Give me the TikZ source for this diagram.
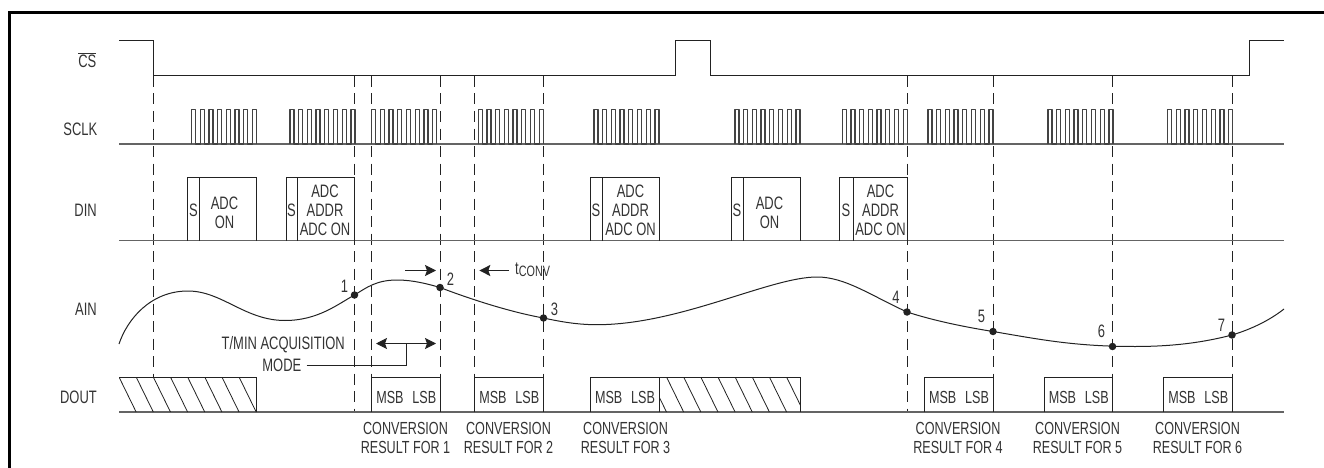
\documentclass[tikz,border=0pt]{standalone}
\usepackage{fontspec}
\setmainfont[FakeStretch=0.72]{Liberation Sans}
\usetikzlibrary{arrows.meta}
\definecolor{ink}{HTML}{222222}
\definecolor{txt}{HTML}{333333}
\tikzset{
  sig/.style={draw=ink,line width=1pt},
  clk/.style={draw=ink!85,line width=1.25pt,line join=round},
  base/.style={draw=ink!70,line width=1.5pt},
  guide/.style={draw=ink,line width=1pt,dash pattern=on 11pt off 6.5pt},
  lab/.style={text=txt,font=\fontsize{18}{19}\selectfont,inner sep=0pt,align=center},
  sml/.style={text=txt,font=\fontsize{17.5}{19}\selectfont,inner sep=0pt,align=center},
  num/.style={text=txt,font=\fontsize{18}{19}\selectfont,inner sep=0pt},
  dotm/.style={circle,fill=ink,inner sep=0pt,minimum size=7.5pt},
  head/.style={-{Stealth[length=11pt,width=11pt,inset=2pt]},draw=ink,line width=1pt},
  dhead/.style={{Stealth[length=11pt,width=11pt,inset=2pt]}-{Stealth[length=11pt,width=11pt,inset=2pt]},draw=ink,line width=1pt},
  hatch/.style={draw=ink,line width=0.8pt}
}
\newcommand{\burst}[1]{%
  \draw[clk] (#1,144) -- ++(0,-34.5) -- ++(4,0) -- ++(0,34.5)
    \foreach \i in {1,...,7}{ -- ++(4.7,0) -- ++(0,-34.5) -- ++(4,0) -- ++(0,34.5)};
}
\newcommand{\dinbox}[3]{%
  \draw[sig] (#1,240.5) -- (#1,177.5) -- (#3,177.5) -- (#3,240.5);
  \draw[sig] (#2,177.5) -- (#2,240.5);
}
\begin{document}
\begin{tikzpicture}[x=1pt,y=-1pt]
\useasboundingbox (0,0) rectangle (1324,468);
% frame
\draw[black,line width=3pt] (9.5,468) -- (9.5,12.5) -- (1324,12.5);
% row labels
\node[lab,anchor=east] (lcs) at (96.5,60) {$\overline{\mbox{CS}}$};
\node[lab,anchor=east] (lsclk) at (97.5,129) {SCLK};
\node[lab,anchor=east] (ldin) at (97,210) {DIN};
\node[lab,anchor=east] (lain) at (97,309) {AIN};
\node[lab,anchor=east] (ldout) at (97,397) {DOUT};
% guides
\foreach \x/\yb in {153.5/377,354.5/412,371.5/412,440/412,474.5/412,543/412,907/412,993/412,1112.5/412,1232/412}
  \draw[guide] (\x,76) -- (\x,\yb);
% CS
\draw[sig] (119,41) -- (153.5,41) -- (153.5,75.5) -- (675.5,75.5) -- (675.5,41) -- (710,41) -- (710,75.5) -- (1249.5,75.5) -- (1249.5,41) -- (1284,41);
% SCLK
\draw[base] (119,144) -- (1284,144);
\foreach \x in {191.5,290,371.7,478.3,594,735,842.3,928,1048,1167.7}{\burst{\x}}
% DIN
\draw[base] (119,240.5) -- (1284,240.5);
\dinbox{187.5}{199}{256.5}
\dinbox{286}{297}{354.5}
\dinbox{590}{602.5}{659}
\dinbox{731}{743}{800}
\dinbox{839}{853}{907.5}
\foreach \x/\n in {193.5/s1,291.5/s2,596/s3,737/s4,846/s5}
  \node[lab] (\n) at (\x,210) {S};
\node[lab] (t1) at (224.5,213) {ADC\\ON};
\node[lab] (t2) at (325,210.5) {ADC\\ADDR\\ADC ON};
\node[lab] (t3) at (630.5,210.5) {ADC\\ADDR\\ADC ON};
\node[lab] (t4) at (769.5,213) {ADC\\ON};
\node[lab] (t5) at (880.5,210.5) {ADC\\ADDR\\ADC ON};
% AIN curve
\draw[ink,line width=1pt] (119,344)
  .. controls (127,320) and (150,291) .. (188,291)
  .. controls (222,291) and (245,320.5) .. (285,320.5)
  .. controls (318,320.5) and (338,304) .. (354.5,295)
  .. controls (366,288) and (376,280) .. (397,280)
  .. controls (413,280) and (428,284) .. (440,287.5)
  .. controls (470,299) and (510,312) .. (543.5,318)
  .. controls (562,322) and (578,324.7) .. (597,324.7)
  .. controls (680,324.7) and (770,277) .. (817,277)
  .. controls (845,277) and (870,295) .. (907,312)
  .. controls (935,321) and (965,327) .. (993,331.5)
  .. controls (1040,339.5) and (1075,346.5) .. (1135,346.5)
  .. controls (1175,346.5) and (1205,342) .. (1232,335)
  .. controls (1252,329) and (1270,320) .. (1284,309);
\foreach \n/\x/\y in {d1/354.5/295,d2/440/287.5,d3/543.5/318,d4/907/312,d5/993/331.5,d6/1112.5/346.5,d7/1232/335}
  \node[dotm] (\n) at (\x,\y) {};
\node[num] (n1) at (344.5,286) {1};
\node[num] (n2) at (450.5,279) {2};
\node[num] (n3) at (554.5,309) {3};
\node[num] (n4) at (896,297) {4};
\node[num] (n5) at (981.5,316) {5};
\node[num] (n6) at (1101.5,331.5) {6};
\node[num] (n7) at (1221.5,325) {7};
% timing arrows
\coordinate (a1) at (405,270.5); \coordinate (a2) at (436,270.5);
\draw[head] (a1) -- (a2);
\coordinate (b1) at (509,270.5); \coordinate (b2) at (479.3,270.5);
\draw[head] (b1) -- (b2);
\node[lab,anchor=west] (tconv) at (515,270) {t\raisebox{-2.5pt}{\fontsize{15}{16}\selectfont CONV}};
\coordinate (c1) at (376,343.5); \coordinate (c2) at (436,343.5); \coordinate (c3) at (406,343.5);
\draw[dhead] (c1) -- (c2);
\node[lab,anchor=east] (acq) at (345,345) {T/MIN ACQUISITION};
\node[lab,anchor=east] (mode) at (301.5,365.5) {MODE};
\draw[sig] (mode.east) ++(5,0) -- (406,365.5) -- (c3);
% DOUT
\draw[base] (119,412) -- (1284,412);
\begin{scope}
  \clip (119,377) rectangle (256.5,412);
  \foreach \k in {0,...,8}
    \draw[hatch] (119+\k*17.15,377) -- ++(17.15,35);
\end{scope}
\draw[sig] (119,377) -- (256.5,377) -- (256.5,412);
\begin{scope}
  \clip (659,377) rectangle (800,412);
  \foreach \k in {-1,...,8}
    \draw[hatch] (666.5+\k*17.15,377) -- ++(17.15,35);
\end{scope}
\draw[sig] (659,377) -- (800,377) -- (800,412);
\foreach \a/\b/\n in {371.5/440/m1,474.5/543/m2,590/659/m3,924/993/m4,1044/1112.5/m5,1163.5/1232/m6}{
  \draw[sig] (\a,412) -- (\a,377) -- (\b,377) -- (\b,412);
  \node[sml] (\n) at ({(\a+\b)/2+0.5},397) {MSB\hspace{0.5em}LSB};
}
% captions
\foreach \x/\k in {405.5/1,508.5/2,625.5/3,958/4,1077.5/5,1197.5/6}
  \node[sml] (cap\k) at (\x,437.5) {CONVERSION\\RESULT FOR \k};
\end{tikzpicture}
\end{document}
